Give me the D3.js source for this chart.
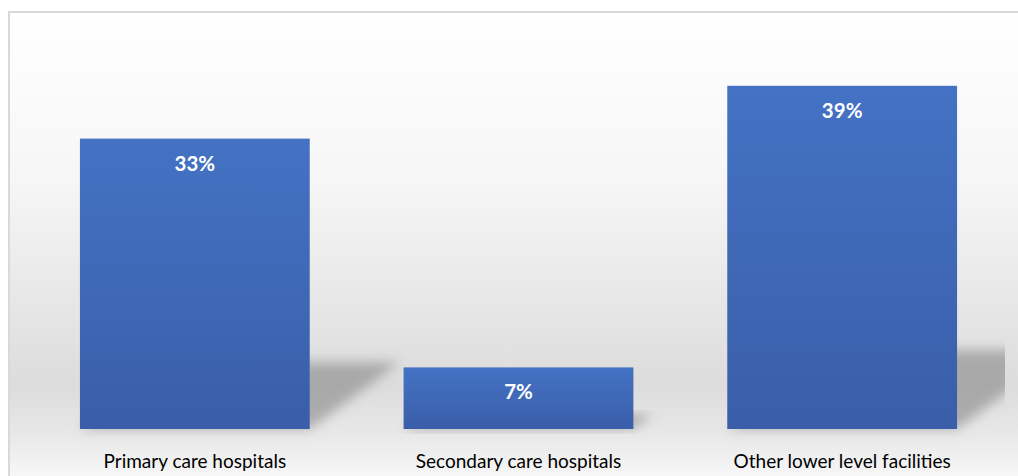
<!DOCTYPE html>
<html>
<head>
<meta charset="utf-8">
<script src="https://cdn.jsdelivr.net/npm/d3@7"></script>
<style>
  html, body { margin: 0; padding: 0; background: #fff; }
  svg { display: block; }
</style>
</head>
<body>
<svg id="chart" width="1018" height="476"></svg>
<script>
// data
var categories = ["Primary care hospitals", "Secondary care hospitals", "Other lower level facilities"];
var shares = [33, 7, 39];
var valueLabels = ["33%", "7%", "39%"];

var width = 1018, height = 476;
var margin = { top: 33, right: 60, bottom: 47, left: 33 };

var svg = d3.select("#chart");
var defs = svg.append("defs");

// background gradient, white at top, grey near the floor
var bg = defs.append("linearGradient")
    .attr("id", "bgGrad")
    .attr("x1", 0).attr("y1", 0).attr("x2", 0).attr("y2", 1);
bg.append("stop").attr("offset", "0%").attr("stop-color", "#ffffff");
bg.append("stop").attr("offset", "35%").attr("stop-color", "#f6f6f6");
bg.append("stop").attr("offset", "78%").attr("stop-color", "#dcdcdc");
bg.append("stop").attr("offset", "88%").attr("stop-color", "#e8e8e8");
bg.append("stop").attr("offset", "100%").attr("stop-color", "#fcfcfc");

var barGrad = defs.append("linearGradient")
    .attr("id", "barGrad")
    .attr("x1", 0).attr("y1", 0).attr("x2", 0).attr("y2", 1);
barGrad.append("stop").attr("offset", "0%").attr("stop-color", "#4472c4");
barGrad.append("stop").attr("offset", "100%").attr("stop-color", "#3a5ea8");

defs.append("filter")
    .attr("id", "blur")
    .attr("x", "-30%").attr("y", "-30%").attr("width", "160%").attr("height", "160%")
    .append("feGaussianBlur").attr("stdDeviation", 6);

defs.append("clipPath").attr("id", "plotClip")
    .append("rect").attr("x", 9).attr("y", 12).attr("width", 996).attr("height", 464);

// chart frame
svg.append("rect")
    .attr("x", 9).attr("y", 12)
    .attr("width", 1030).attr("height", 480)
    .attr("fill", "url(#bgGrad)")
    .attr("stroke", "#d9d9d9")
    .attr("stroke-width", 2);

var x = d3.scaleBand()
    .domain(categories)
    .range([margin.left, width - margin.right + 46])
    .paddingInner(0.29)
    .paddingOuter(0.145);

var y = d3.scaleLinear()
    .domain([0, 45])
    .range([height - margin.bottom, margin.top]);

var base = y(0);

// perspective shadows behind the bars
svg.append("g")
    .attr("clip-path", "url(#plotClip)")
    .selectAll("path")
    .data(shares)
    .join("path")
    .attr("d", function (d, i) {
        var x0 = x(categories[i]), x1 = x0 + x.bandwidth();
        var h = (base - y(d)) * 0.23;
        var dx = h * 1.35;
        return "M" + x0 + "," + base +
            "L" + x1 + "," + base +
            "L" + (x1 + dx) + "," + (base - h) +
            "L" + (x0 + dx) + "," + (base - h) + "Z";
    })
    .attr("fill", "#7f7f7f")
    .attr("opacity", 0.55)
    .attr("filter", "url(#blur)");

// bars
svg.append("g")
    .selectAll("rect")
    .data(shares)
    .join("rect")
    .attr("x", function (d, i) { return x(categories[i]); })
    .attr("y", function (d) { return y(d); })
    .attr("width", x.bandwidth())
    .attr("height", function (d) { return base - y(d); })
    .attr("fill", "url(#barGrad)");

// value labels
svg.append("g")
    .selectAll("text")
    .data(shares)
    .join("text")
    .attr("x", function (d, i) { return x(categories[i]) + x.bandwidth() / 2; })
    .attr("y", function (d) { return y(d) + 32; })
    .attr("text-anchor", "middle")
    .attr("fill", "#ffffff")
    .attr("font-family", "Lato, 'Open Sans', sans-serif")
    .attr("font-weight", "bold")
    .attr("font-size", 20.5)
    .text(function (d, i) { return valueLabels[i]; });

// category axis
var xAxis = svg.append("g")
    .attr("transform", "translate(0," + base + ")")
    .call(d3.axisBottom(x).tickSize(0).tickPadding(26));
xAxis.select(".domain").remove();
xAxis.selectAll("text")
    .attr("fill", "#000")
    .attr("font-family", "Lato, 'Open Sans', sans-serif")
    .attr("font-size", 19);
</script>
</body>
</html>
